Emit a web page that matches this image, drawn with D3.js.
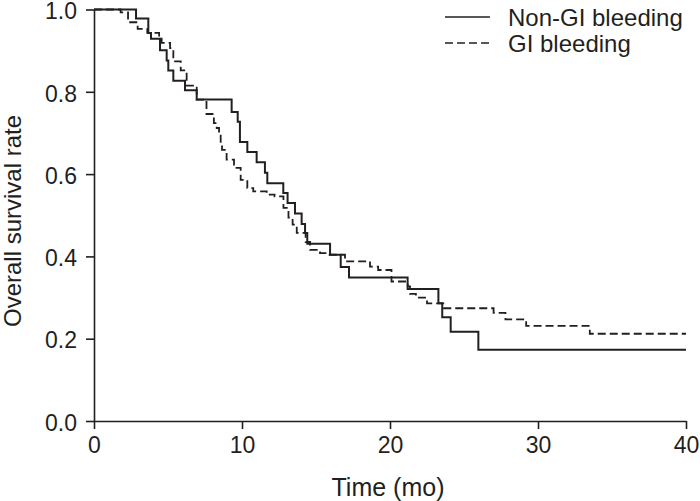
<!DOCTYPE html>
<html>
<head>
<meta charset="utf-8">
<script src="https://cdn.jsdelivr.net/npm/d3@7"></script>
<style>
  html, body { margin: 0; padding: 0; background: #fff; }
  svg { display: block; }
  text { font-family: "Liberation Sans", Arial, Helvetica, sans-serif; fill: #231f20; }
</style>
</head>
<body>
<svg id="chart" width="700" height="501"></svg>
<script>
// ---- Data ----
const seriesNames = ["Non-GI bleeding", "GI bleeding"];

const nonGiTime = [0, 2.84, 3.67, 3.85, 4.46, 4.91, 5.02, 5.36, 6.15, 6.94, 9.30, 9.71, 9.86, 10.36, 10.99, 11.55, 11.71, 12.79, 13.08, 13.58, 14.03, 14.26, 14.41, 15.95, 16.67, 17.23, 21.19, 23.27, 23.53, 24.10, 25.97, 40];
const nonGiSurv = [1.0, 0.978, 0.943, 0.929, 0.901, 0.876, 0.852, 0.827, 0.804, 0.781, 0.751, 0.727, 0.678, 0.654, 0.629, 0.603, 0.578, 0.554, 0.530, 0.504, 0.479, 0.457, 0.431, 0.404, 0.374, 0.349, 0.321, 0.286, 0.252, 0.217, 0.173, 0.173];

const giTime = [0, 1.8, 2.3, 2.95, 3.6, 4.4, 4.57, 5.14, 5.36, 5.86, 6.26, 6.94, 7.6, 8.1, 8.29, 8.45, 8.56, 8.65, 8.96, 9.46, 9.91, 10.36, 10.76, 11.67, 12.2, 12.8, 13.14, 13.42, 13.7, 14.3, 14.6, 15.27, 15.8, 16.96, 18.65, 19.2, 20.1, 21.2, 21.35, 21.75, 22.5, 23.6, 27.0, 27.8, 29.2, 33.5, 40];
const giSurv = [1.0, 0.993, 0.969, 0.953, 0.943, 0.933, 0.919, 0.906, 0.874, 0.852, 0.815, 0.781, 0.746, 0.724, 0.712, 0.698, 0.676, 0.659, 0.635, 0.615, 0.586, 0.566, 0.558, 0.550, 0.546, 0.518, 0.494, 0.477, 0.457, 0.435, 0.416, 0.408, 0.404, 0.388, 0.375, 0.367, 0.339, 0.327, 0.309, 0.300, 0.286, 0.274, 0.263, 0.247, 0.231, 0.212, 0.212];

const xTicks = [0, 10, 20, 30, 40];
const yTicks = [0, 0.2, 0.4, 0.6, 0.8, 1.0];
const xTitle = "Time (mo)";
const yTitle = "Overall survival rate";

// ---- Layout ----
const ink = "#231f20";
const svg = d3.select("#chart");
const x = d3.scaleLinear().domain([0, 40]).range([94, 686]);
const y = d3.scaleLinear().domain([0, 1]).range([421, 9.5]);

// Axes
const xAxis = d3.axisBottom(x).tickValues(xTicks).tickFormat(d3.format("d"))
  .tickSize(8).tickSizeOuter(0).tickPadding(8);
const yAxis = d3.axisLeft(y).tickValues(yTicks).tickFormat(d3.format(".1f"))
  .tickSize(8).tickSizeOuter(0).tickPadding(9);

const gx = svg.append("g").attr("transform", `translate(0,${y(0)})`).call(xAxis);
const gy = svg.append("g").attr("transform", `translate(${x(0)},0)`).call(yAxis);
[gx, gy].forEach(g => {
  g.select(".domain").attr("stroke", ink).attr("stroke-width", 1.6);
  g.selectAll(".tick line").attr("stroke", ink).attr("stroke-width", 1.6);
  g.selectAll(".tick text").attr("fill", ink)
    .style("font-family", '"Liberation Sans", Arial, sans-serif').style("font-size", "23px");
});
gy.selectAll(".tick text").attr("dy", "0.4em");

// Titles
svg.append("text").attr("x", 388).attr("y", 496).attr("text-anchor", "middle")
  .style("font-size", "25px").text(xTitle);
svg.append("text").attr("transform", "translate(21,221) rotate(-90)").attr("text-anchor", "middle")
  .style("font-size", "24px").text(yTitle);

// Curves
const line = d3.line().x(d => x(d[0])).y(d => y(d[1])).curve(d3.curveStepAfter);
const nonGi = nonGiTime.map((t, i) => [t, nonGiSurv[i]]);
const gi = giTime.map((t, i) => [t, giSurv[i]]);

svg.append("path").datum(gi).attr("d", line).attr("fill", "none")
  .attr("stroke", ink).attr("stroke-width", 1.8).attr("stroke-dasharray", "8,4");
svg.append("path").datum(nonGi).attr("d", line).attr("fill", "none")
  .attr("stroke", ink).attr("stroke-width", 2);

// Legend
const legend = svg.append("g");
const legendY = [17, 43];
const legendDash = [null, "8,4"];
seriesNames.forEach((name, i) => {
  legend.append("line").attr("x1", 445).attr("x2", 490).attr("y1", legendY[i]).attr("y2", legendY[i])
    .attr("stroke", ink).attr("stroke-width", 1.6).attr("stroke-dasharray", legendDash[i]);
  legend.append("text").attr("x", 508).attr("y", legendY[i] + 9).style("font-size", "24px").text(name);
});
</script>
</body>
</html>
